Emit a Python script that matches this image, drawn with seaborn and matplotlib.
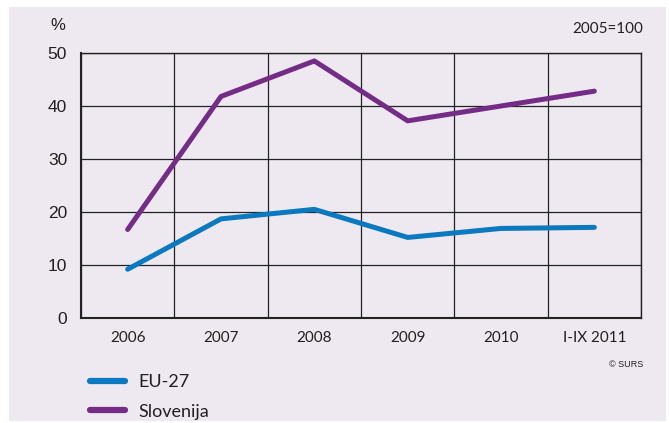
import numpy as np
import pandas as pd
import seaborn as sns
import matplotlib.pyplot as plt
from matplotlib.patches import Rectangle

# Podatki (2005=100, sprememba v %)
years = ['2006', '2007', '2008', '2009', '2010', 'I-IX 2011']
eu27 = [9.2, 18.7, 20.5, 15.2, 16.9, 17.1]
slovenija = [16.7, 41.8, 48.5, 37.2, 40.0, 42.8]

df = pd.DataFrame({
    'leto': years * 2,
    'vrednost': eu27 + slovenija,
    'serija': ['EU-27'] * len(years) + ['Slovenija'] * len(years),
})

sns.set_style('white')
plt.rcParams['font.family'] = ['Liberation Sans', 'DejaVu Sans']

fig = plt.figure(figsize=(6.69, 4.23), dpi=100)
bg = '#eee9f1'
fig.patches.append(Rectangle((9 / 669, 2 / 423), 657 / 669, 414 / 423,
                             transform=fig.transFigure, facecolor=bg,
                             edgecolor='none', zorder=-5))

ax = fig.add_axes([81 / 669, 1 - 318 / 423, 560 / 669, 265 / 423])
ax.set_facecolor(bg)

sns.lineplot(data=df, x='leto', y='vrednost', hue='serija', sort=False,
             palette={'EU-27': '#0b79bf', 'Slovenija': '#742c87'},
             linewidth=3.6, ax=ax, legend=True)

ax.set_xlim(-0.5, 5.5)
ax.set_ylim(0, 50)
ax.set_yticks([0, 10, 20, 30, 40, 50])
ax.set_xticks(np.arange(-0.5, 6, 1), minor=True)
ax.grid(axis='y', which='major', color='#222222', linewidth=0.9)
ax.grid(axis='x', which='minor', color='#222222', linewidth=0.9)
ax.set_axisbelow(True)
ax.tick_params(axis='both', which='both', length=0)
ax.tick_params(axis='y', labelsize=12.5, pad=10, colors='#231f20')
ax.tick_params(axis='x', labelsize=11, pad=9, colors='#231f20')
for lab in ax.get_xticklabels():
    lab.set_family(['Lato', 'DejaVu Sans'])
ax.set_xlabel('')
ax.set_ylabel('')
for s in ax.spines.values():
    s.set_color('#222222')
    s.set_linewidth(1.0)
ax.spines['left'].set_linewidth(1.5)
ax.spines['bottom'].set_linewidth(1.5)

# Legenda pod grafom
leg = ax.legend(loc='upper left', bbox_to_anchor=(74 / 669, 1 - 358 / 423),
                bbox_transform=fig.transFigure, frameon=False,
                prop={'family': ['Lato', 'DejaVu Sans'], 'size': 13},
                handlelength=1.9, handletextpad=0.75, labelspacing=0.75,
                title=None)
for line in leg.get_lines():
    line.set_linewidth(4.5)
for t in leg.get_texts():
    t.set_color('#231f20')

fig.text(50 / 669, 1 - 26 / 423, '%', fontsize=12, color='#231f20',
         va='center', ha='left')
fig.text(643 / 669, 1 - 29 / 423, '2005=100', fontsize=11, color='#231f20',
         va='center', ha='right', family=['Lato', 'DejaVu Sans'])
fig.text(643 / 669, 1 - 364 / 423, '© SURS', fontsize=6.5, color='#231f20',
         va='center', ha='right')

plt.savefig('out.png', dpi=100, facecolor='white')
